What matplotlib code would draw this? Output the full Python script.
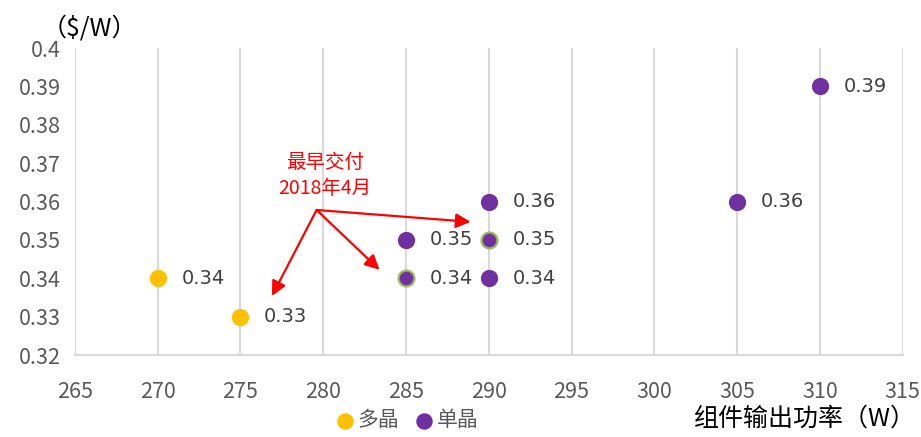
import matplotlib

matplotlib.use("Agg")
import matplotlib.pyplot as plt

plt.rcParams["font.family"] = ["Noto Sans CJK SC", "DejaVu Sans"]

# module price vs. rated output power
poly_power = [270, 275]
poly_price = [0.34, 0.33]
mono_power = [285, 290, 290, 290, 305, 310]
mono_price = [0.35, 0.36, 0.34, 0.35, 0.36, 0.39]
both_power = [285, 290]
both_price = [0.34, 0.35]

x_ticks = [265, 270, 275, 280, 285, 290, 295, 300, 305, 310, 315]
y_ticks = [0.32, 0.33, 0.34, 0.35, 0.36, 0.37, 0.38, 0.39, 0.40]
y_tick_labels = ["0.32", "0.33", "0.34", "0.35", "0.36", "0.37", "0.38", "0.39", "0.4"]

note_text = "最早交付\n2018年4月"
note_xy = (279.6, 0.3578)
arrow_tips = [(288.9, 0.3547), (283.4, 0.3422), (276.9, 0.3354)]

YELLOW = "#FFC000"
PURPLE = "#7030A0"
GREEN = "#9BBB59"
GRAY = "#595959"
GRID = "#D9D9D9"


def label(ax, x, y):
    ax.annotate(f"{y:.2f}", (x, y), xytext=(17, 0), textcoords="offset points",
                va="center", ha="left", fontsize=14, color="#404040",
                family=["DejaVu Sans"])


def main() -> None:
    fig = plt.figure(figsize=(9.21, 4.37), dpi=100)
    ax = fig.add_axes([0.0814, 0.1876, 0.8986, 0.7024])

    ax.scatter(poly_power, poly_price, s=130, color=YELLOW, zorder=3, label="多晶")
    ax.scatter(mono_power, mono_price, s=130, color=PURPLE, zorder=3, label="单晶")
    ax.scatter(both_power, both_price, s=130, color=PURPLE, edgecolors=GREEN,
               linewidths=1.6, zorder=4)

    for x, y in zip(poly_power, poly_price):
        label(ax, x, y)
    for x, y in zip(mono_power, mono_price):
        if (x, y) not in zip(both_power, both_price):
            label(ax, x, y)
    for x, y in zip(both_power, both_price):
        label(ax, x, y)

    for tip in arrow_tips:
        ax.annotate("", xy=tip, xytext=note_xy,
                    arrowprops=dict(arrowstyle="-|>", color="red", lw=1.6,
                                    mutation_scale=22, shrinkA=0, shrinkB=0))
    ax.text(280.1, 0.3668, note_text, color="red", fontsize=14, ha="center",
            va="center", linespacing=1.3)

    ax.set_xlim(265, 315)
    ax.set_ylim(0.32, 0.40)
    ax.set_xticks(x_ticks)
    ax.set_yticks(y_ticks)
    ax.set_yticklabels(y_tick_labels)
    ax.grid(axis="x", color=GRID, linewidth=1.5)
    ax.set_axisbelow(True)
    for side in ["top", "right", "left"]:
        ax.spines[side].set_visible(False)
    ax.spines["bottom"].set_color(GRID)
    ax.spines["bottom"].set_linewidth(1.5)
    ax.tick_params(length=0, labelsize=15.5, labelcolor=GRAY, pad=10)
    ax.tick_params(axis="x", pad=19)

    fig.text(0.045, 0.935, "（$/W）", fontsize=18, color="black", ha="left",
             va="center")
    fig.text(0.995, 0.012, "组件输出功率（W）", fontsize=18, color="black",
             ha="right", va="bottom")
    fig.legend(loc="lower center", bbox_to_anchor=(0.44, -0.03), ncol=2,
               frameon=False, fontsize=15, labelcolor=GRAY, handletextpad=0.0,
               handlelength=1.2, columnspacing=0.6, markerscale=0.95)

    fig.savefig("out.png", dpi=100)


if __name__ == "__main__":
    main()
